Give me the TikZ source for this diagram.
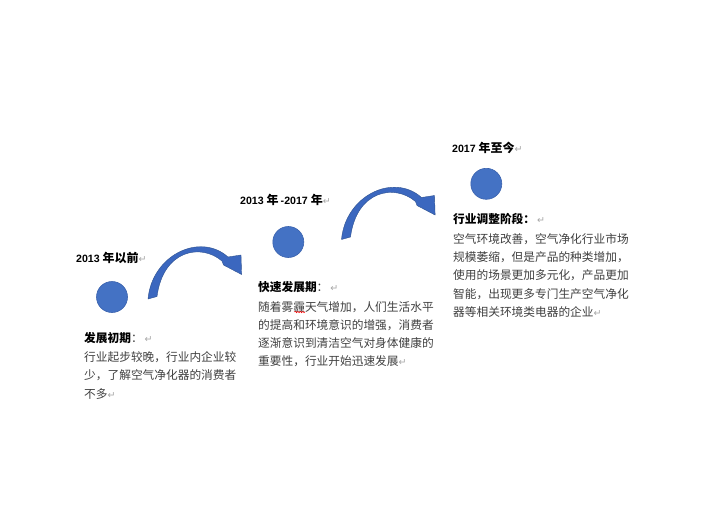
\documentclass[tikz,border=0pt]{standalone}
\usepackage{fontspec}
\setmainfont{Noto Sans CJK SC}
\newfontfamily\cjk{Noto Sans CJK SC}
\newfontfamily\latf{Liberation Sans}
\newfontfamily\symf{DejaVu Sans}
\usetikzlibrary{decorations.pathmorphing}
\definecolor{dotblue}{HTML}{4472C4}
\definecolor{dotedge}{HTML}{3A62AE}
\definecolor{arrowblue}{HTML}{3B67BF}
\definecolor{arrowedge}{HTML}{2F528F}
\definecolor{bodygray}{HTML}{404040}
\definecolor{retgray}{HTML}{A6A6A6}
\newcommand\ret{{\symf\mdseries\color{retgray}\fontsize{9.5}{9.5}\selectfont ↵}}
\newcommand\latn[1]{{\latf\fontsize{10.6}{14}\selectfont #1}}
\tikzset{
  titletext/.style={anchor=west, inner sep=0pt, font=\cjk\bfseries\fontsize{12}{14}\selectfont, text=black},
  headtext/.style={anchor=west, inner sep=0pt, font=\cjk\bfseries\fontsize{11.7}{14}\selectfont, text=black},
  bodytext/.style={anchor=north west, inner sep=0pt, align=left, font=\cjk\fontsize{11.7}{18.3}\selectfont, text=bodygray},
  dot/.style={circle, fill=dotblue, draw=dotedge, line width=0.6pt, minimum size=31pt, inner sep=0pt},
  bandfill/.style={fill=arrowblue, draw=arrowedge, line width=0.4pt, line join=round},
  curvearrow/.pic={
    \path[bandfill] (0,0) .. controls (4,-44) and (52,-67) .. (80,-42)
      -- (93,-44) -- (93.6,-24.5) -- (75.5,-34) -- (74,-38)
      .. controls (53,-56) and (15,-49) .. (9,-2.5) -- cycle;
  }
}
\begin{document}
\begin{tikzpicture}[x=1pt, y=-1pt]
  \path[use as bounding box, fill=white] (0,0) rectangle (704,528);

  % stage 1
  \node[titletext] (t1) at (76,258) {\latn{2013 }年以前\ret};
  \node[dot] (c1) at (112,297) {};
  \node[headtext] (h1) at (84,338) {发展初期{\mdseries\color{bodygray}：}\,\ret};
  \node[bodytext] (b1) at (84,351.4) {行业起步较晚，行业内企业较\\少，了解空气净化器的消费者\\不多\ret};

  % stage 2
  \node[titletext] (t2) at (240,200) {\latn{2013 }年\,\latn{-2017 }年\ret};
  \node[dot] (c2) at (288.3,242) {};
  \node[headtext] (h2) at (258,287) {快速发展期{\mdseries\color{bodygray}：}\,\ret};
  \node[bodytext] (b2) at (258,301) {随着雾霾天气增加，人们生活水平\\的提高和环境意识的增强，消费者\\逐渐意识到清洁空气对身体健康的\\重要性，行业开始迅速发展\ret};

  % stage 3
  \node[titletext] (t3) at (452,148.3) {\latn{2017 }年至今\ret};
  \node[dot] (c3) at (486.3,183.8) {};
  \node[headtext] (h3) at (453,219.3) {行业调整阶段：\,\ret};
  \node[bodytext] (b3) at (453,233) {空气环境改善，空气净化行业市场\\规模萎缩，但是产品的种类增加，\\使用的场景更加多元化，产品更加\\智能，出现更多专门生产空气净化\\器等相关环境类电器的企业\ret};

  % curved arrows
  \pic at (148,299) {curvearrow};
  \pic at (341.5,239.5) {curvearrow};

  % spell-check squiggle under a character
  \draw[red, line width=0.5pt, decorate, decoration={snake, amplitude=0.7pt, segment length=2.5pt}] (294.5,312) -- (305,312);
\end{tikzpicture}
\end{document}
